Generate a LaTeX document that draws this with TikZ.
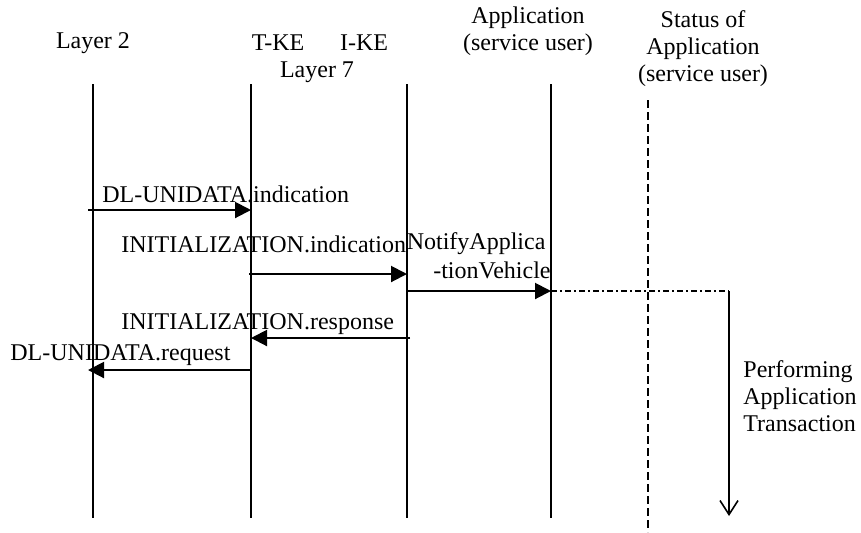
\documentclass[tikz,border=0pt]{standalone}
\usepackage{fontspec}
\setmainfont{Liberation Serif}
\usetikzlibrary{arrows.meta, positioning, calc}

\begin{document}
\begin{tikzpicture}[x=0.5pt, y=-0.5pt,
    every node/.style={font=\fontsize{12}{13.5}\selectfont, inner sep=0pt},
    life/.style={line width=1pt},
    msg/.style={line width=1pt, -{Triangle[length=8pt, width=8pt]}},
    lbl/.style={anchor=west}]

\useasboundingbox (0,0) rectangle (861,532);

% --- HEADINGS ---
\node (hltwo) at (93,43) {Layer 2};
\node (htke) at (278,43) {T-KE};
\node (hike) at (364,43) {I-KE};
\node (hlseven) at (317,72) {Layer 7};
\node[align=center] (happ) at (528,31) {Application\\(service user)};
\node[align=center] (hstat) at (703,49) {Status of\\Application\\(service user)};

% --- LIFELINES ---
\foreach \name/\x in {ltwo/93, tke/251, ike/407, app/551} {
    \coordinate (\name-top) at (\x,84);
    \coordinate (\name-bot) at (\x,518);
    \draw[life] (\name-top) -- (\name-bot);
}
% status of the application (dashed)
\coordinate (stat-top) at (648,100);
\coordinate (stat-bot) at (648,532);
\draw[line width=1pt, dash pattern=on 4pt off 2pt] (stat-top) -- (stat-bot);

% --- PRIMITIVES ---
\coordinate (dlind-s) at (88,210);
\coordinate (dlind-e) at (251,210);
\draw[msg] (dlind-s) -- (dlind-e);
\node[lbl] (dlind) at (102,194) {DL-UNIDATA.indication};

\coordinate (initind-s) at (249,274);
\coordinate (initind-e) at (407,274);
\draw[msg] (initind-s) -- (initind-e);
\node[lbl] (initind) at (121,244) {INITIALIZATION.indication};

\coordinate (notify-s) at (407,291);
\coordinate (notify-e) at (551,291);
\draw[msg] (notify-s) -- (notify-e);
\node[anchor=west] (notifya) at (initind.east) {NotifyApplica};
\node[anchor=east] (notifyb) at (551,270) {-tionVehicle};

\coordinate (initrsp-s) at (410,338);
\coordinate (initrsp-e) at (251,338);
\draw[msg] (initrsp-s) -- (initrsp-e);
\node[lbl] (initrsp) at (121,324) {INITIALIZATION.response};

\coordinate (dlreq-s) at (251,370);
\coordinate (dlreq-e) at (88,370);
\draw[msg] (dlreq-s) -- (dlreq-e);
\node[lbl] (dlreq) at (10,355) {DL-UNIDATA.request};

% --- APPLICATION TRANSACTION ---
\coordinate (trans-s) at (729,291);
\coordinate (trans-e) at (729,516);
\draw[line width=1pt, dash pattern=on 3pt off 1.5pt on 1pt off 1.5pt] (notify-e) -- (trans-s);
\draw[line width=0.8pt, -{Straight Barb[length=7pt, width=9pt]}] (trans-s) -- (trans-e);
\node[align=left, anchor=west] (trans) at (743,396) {Performing\\Application\\Transaction};

\end{tikzpicture}
\end{document}
